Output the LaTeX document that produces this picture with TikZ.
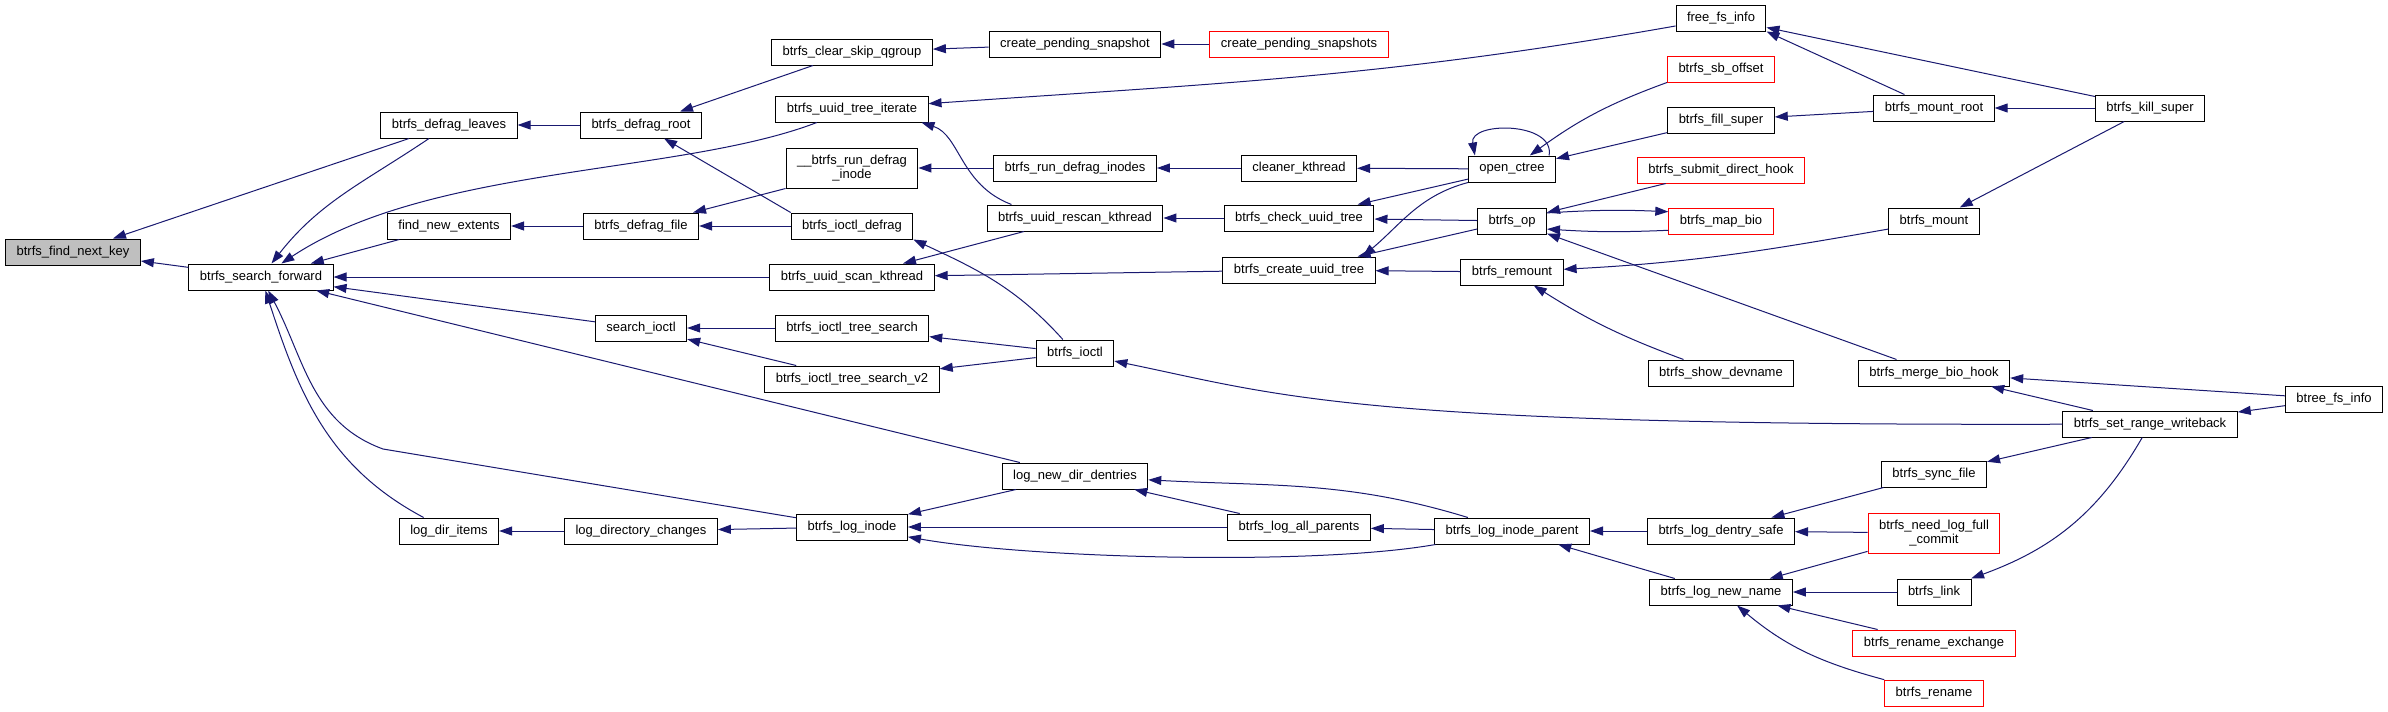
\documentclass[tikz,border=0pt]{standalone}
\usepackage{fontspec}
\setmainfont{Liberation Sans}
\usetikzlibrary{arrows.meta}
\definecolor{edgeblue}{HTML}{191970}
\definecolor{rootgray}{HTML}{BFBFBF}

\begin{document}
\begin{tikzpicture}[
    x=1pt, y=1pt,
    func/.style={draw=black, fill=white, line width=1pt, minimum height=26pt, inner xsep=11pt, inner ysep=3pt, align=center, font=\fontsize{13}{14}\selectfont},
    rootfunc/.style={func, fill=rootgray},
    extfunc/.style={func, draw=red},
    callarrow/.style={-{Triangle[length=13pt, width=9pt]}, draw=edgeblue, line width=1pt},
]
    \path[fill=white] (0,0) rectangle (2388,-712);
    \useasboundingbox (0,0) rectangle (2388,-712);

    % columns, left to right
    \node[rootfunc] (fnk) at (73,-252) {btrfs\_find\_next\_key};

    \node[func] (sf) at (261,-277) {btrfs\_search\_forward};

    \node[func] (dleaves) at (449,-125) {btrfs\_defrag\_leaves};
    \node[func] (fne) at (449,-226) {find\_new\_extents};
    \node[func] (ldi) at (449,-531) {log\_dir\_items};

    \node[func] (droot) at (641,-125) {btrfs\_defrag\_root};
    \node[func] (dfile) at (641,-226) {btrfs\_defrag\_file};
    \node[func] (sioctl) at (641,-328) {search\_ioctl};
    \node[func] (ldc) at (641,-531) {log\_directory\_changes};

    \node[func] (csq) at (852,-52) {btrfs\_clear\_skip\_qgroup};
    \node[func] (uti) at (852,-109) {btrfs\_uuid\_tree\_iterate};
    \node[func, minimum height=40pt] (rdi) at (852,-168) {\_\_btrfs\_run\_defrag\\\_inode};
    \node[func] (iodefrag) at (852,-226) {btrfs\_ioctl\_defrag};
    \node[func] (usk) at (852,-277) {btrfs\_uuid\_scan\_kthread};
    \node[func] (its) at (852,-328) {btrfs\_ioctl\_tree\_search};
    \node[func] (its2) at (852,-379) {btrfs\_ioctl\_tree\_search\_v2};
    \node[func] (loginode) at (852,-527) {btrfs\_log\_inode};

    \node[func] (cps) at (1075,-44) {create\_pending\_snapshot};
    \node[func] (rdis) at (1075,-168) {btrfs\_run\_defrag\_inodes};
    \node[func] (urk) at (1075,-218) {btrfs\_uuid\_rescan\_kthread};
    \node[func] (ioctl) at (1075,-353) {btrfs\_ioctl};
    \node[func] (lndd) at (1075,-476) {log\_new\_dir\_dentries};

    \node[extfunc] (cpss) at (1299,-44) {create\_pending\_snapshots};
    \node[func] (ck) at (1299,-168) {cleaner\_kthread};
    \node[func] (cut) at (1299,-218) {btrfs\_check\_uuid\_tree};
    \node[func] (crut) at (1299,-270) {btrfs\_create\_uuid\_tree};
    \node[func] (lap) at (1299,-527) {btrfs\_log\_all\_parents};

    \node[func] (octree) at (1512,-169) {open\_ctree};
    \node[func] (op) at (1512,-221) {btrfs\_op};
    \node[func] (remount) at (1512,-272) {btrfs\_remount};
    \node[func] (lip) at (1512,-531) {btrfs\_log\_inode\_parent};

    \node[func] (ffi) at (1721,-18) {free\_fs\_info};
    \node[extfunc] (sbo) at (1721,-69) {btrfs\_sb\_offset};
    \node[func] (fill) at (1721,-120) {btrfs\_fill\_super};
    \node[extfunc] (sdh) at (1721,-170) {btrfs\_submit\_direct\_hook};
    \node[extfunc] (mapbio) at (1721,-221) {btrfs\_map\_bio};
    \node[func] (showdev) at (1721,-373) {btrfs\_show\_devname};
    \node[func] (lds) at (1721,-531) {btrfs\_log\_dentry\_safe};
    \node[func] (lnn) at (1721,-592) {btrfs\_log\_new\_name};

    \node[func] (mroot) at (1934,-108) {btrfs\_mount\_root};
    \node[func] (mount) at (1934,-221) {btrfs\_mount};
    \node[func] (mbh) at (1934,-373) {btrfs\_merge\_bio\_hook};
    \node[func] (sync) at (1934,-474) {btrfs\_sync\_file};
    \node[extfunc, minimum height=40pt] (nlfc) at (1934,-533) {btrfs\_need\_log\_full\\\_commit};
    \node[func] (link) at (1934,-592) {btrfs\_link};
    \node[extfunc] (rex) at (1934,-643) {btrfs\_rename\_exchange};
    \node[extfunc] (ren) at (1934,-693) {btrfs\_rename};

    \node[func] (kill) at (2150,-108) {btrfs\_kill\_super};
    \node[func] (srw) at (2150,-424) {btrfs\_set\_range\_writeback};

    \node[func] (btfi) at (2334,-399) {btree\_fs\_info};

    % calls
    \draw[callarrow] (sf) -- (fnk);
    \draw[callarrow] (dleaves) -- (fnk);
    \draw[callarrow] (dleaves) to[out=214, in=52] (sf);
    \draw[callarrow] (uti) .. controls (680,-175) and (430,-165) .. (sf);
    \draw[callarrow] (fne) -- (sf);
    \draw[callarrow] (usk) -- (sf);
    \draw[callarrow] (sioctl) -- (sf);
    \draw[callarrow] (lndd) -- (sf);
    \draw[callarrow] (loginode) -- (383,-449) to[out=160, in=-62] (sf);
    \draw[callarrow] (ldi) to[out=152, in=-72] (sf);

    \draw[callarrow] (droot) -- (dleaves);
    \draw[callarrow] (csq) -- (droot);
    \draw[callarrow] (iodefrag.north west) -- (droot);
    \draw[callarrow] (dfile) -- (fne);
    \draw[callarrow] (rdi.south west) -- (dfile);
    \draw[callarrow] (iodefrag) -- (dfile);
    \draw[callarrow] (its) -- (sioctl);
    \draw[callarrow] (its2) -- (sioctl);
    \draw[callarrow] (ldc) -- (ldi);
    \draw[callarrow] (loginode) -- (ldc);

    \draw[callarrow] (cps) -- (csq);
    \draw[callarrow] (cpss) -- (cps);
    \draw[callarrow] (ffi) to[out=190, in=4] (uti);
    \draw[callarrow] (urk.168) .. controls (960,-185) and (960,-135) .. (uti.-11);
    \draw[callarrow] (rdis) -- (rdi);
    \draw[callarrow] (ck) -- (rdis);
    \draw[callarrow] (octree) -- (ck);
    \draw[callarrow] (ioctl) to[out=132, in=-25] (iodefrag.south east);
    \draw[callarrow] (urk) -- (usk);
    \draw[callarrow] (crut) -- (usk);
    \draw[callarrow] (ioctl) -- (its);
    \draw[callarrow] (ioctl) -- (its2);

    \draw[callarrow] (cut) -- (urk);
    \draw[callarrow] (octree) -- (cut);
    \draw[callarrow] (op) -- (cut);
    \draw[callarrow] (octree.south west) to[out=195, in=40] (crut.12);
    \draw[callarrow] (op) -- (crut);
    \draw[callarrow] (remount) -- (crut);
    \draw[callarrow] (srw) .. controls (1350,-426) and (1280,-395) .. (ioctl);

    \draw[callarrow] (octree.20) to[out=80, in=100, looseness=1.2] (octree.160);
    \draw[callarrow] (sbo.south west) to[bend right=8] (octree);
    \draw[callarrow] (fill) -- (octree);
    \draw[callarrow] (sdh) -- (op);
    \draw[callarrow] (op.13) to[bend left=3] (mapbio.170);
    \draw[callarrow] (mapbio.190) to[bend left=3] (op.-13);
    \draw[callarrow] (mbh) -- (op);
    \draw[callarrow] (mount) to[out=190, in=3] (remount);
    \draw[callarrow] (showdev) to[bend left=6] (remount);

    \draw[callarrow] (lap) -- (lndd);
    \draw[callarrow] (lip) to[out=163, in=-3] (lndd);
    \draw[callarrow] (lndd) -- (loginode);
    \draw[callarrow] (lap) -- (loginode);
    \draw[callarrow] (lip) to[out=190, in=-10, looseness=0.6] (loginode);
    \draw[callarrow] (lip) -- (lap);
    \draw[callarrow] (lds) -- (lip);
    \draw[callarrow] (lnn) -- (lip);

    \draw[callarrow] (mroot) -- (ffi.south east);
    \draw[callarrow] (kill) -- (ffi);
    \draw[callarrow] (mroot) -- (fill);
    \draw[callarrow] (kill) -- (mroot);
    \draw[callarrow] (kill) -- (mount);
    \draw[callarrow] (btfi) -- (mbh);
    \draw[callarrow] (srw) -- (mbh);
    \draw[callarrow] (btfi) -- (srw);
    \draw[callarrow] (srw) -- (sync);
    \draw[callarrow] (sync) -- (lds);
    \draw[callarrow] (nlfc) -- (lds);
    \draw[callarrow] (nlfc) -- (lnn);
    \draw[callarrow] (link) -- (lnn);
    \draw[callarrow] (srw) to[out=240, in=20] (link);
    \draw[callarrow] (rex) -- (lnn);
    \draw[callarrow] (ren) to[out=165, in=-40] (lnn);
\end{tikzpicture}
\end{document}
